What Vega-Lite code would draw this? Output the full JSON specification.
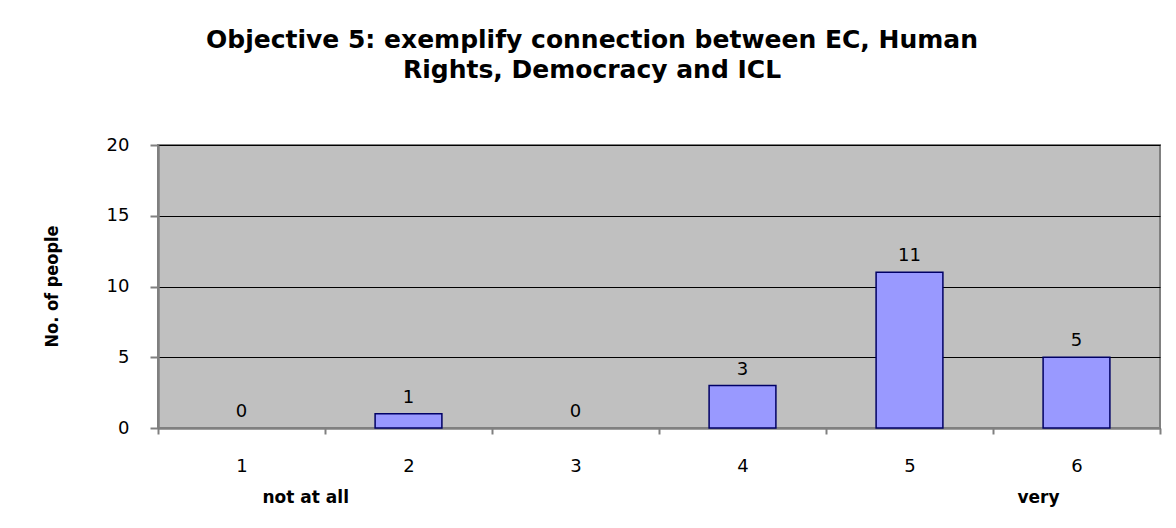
{
  "$schema": "https://vega.github.io/schema/vega-lite/v6.json",
  "autosize": "none",
  "width": 1002,
  "height": 283,
  "padding": {"left": 158, "top": 145, "right": 16, "bottom": 100},
  "background": "white",
  "title": {
    "text": ["Objective 5: exemplify connection between EC, Human", "Rights, Democracy and ICL"],
    "font": "DejaVu Sans",
    "fontSize": 25,
    "fontWeight": "bold",
    "color": "black",
    "anchor": "middle",
    "frame": "group",
    "dx": -67,
    "offset": 53,
    "lineHeight": 30
  },
  "data": {
    "values": [
      {"rating": "1", "count": 0, "note": "not at all"},
      {"rating": "2", "count": 1, "note": ""},
      {"rating": "3", "count": 0, "note": ""},
      {"rating": "4", "count": 3, "note": ""},
      {"rating": "5", "count": 11, "note": ""},
      {"rating": "6", "count": 5, "note": "very"}
    ]
  },
  "config": {
    "view": {"fill": "#c0c0c0", "stroke": "#808080", "strokeWidth": 2},
    "axis": {"labelFont": "DejaVu Sans", "labelFontSize": 18, "labelColor": "black", "domainColor": "#808080", "domainWidth": 2.5, "tickColor": "#808080", "tickWidth": 2}
  },
  "encoding": {
    "x": {
      "field": "rating", "type": "ordinal",
      "scale": {"paddingInner": 0, "paddingOuter": 0},
      "axis": {"title": null, "labelAngle": 0, "tickBand": "extent", "tickSize": 6, "labelPadding": 23, "grid": false}
    }
  },
  "layer": [
    {
      "transform": [{"filter": "datum.count > 0"}],
      "mark": {"type": "bar", "width": {"band": 0.4}, "fill": "#9999ff", "stroke": "#000066", "strokeWidth": 1.5},
      "encoding": {
        "y": {
          "field": "count", "type": "quantitative",
          "scale": {"domain": [0, 20]},
          "axis": {
            "title": "No. of people",
            "titleFont": "DejaVu Sans Condensed",
            "titleFontSize": 18,
            "titleFontWeight": "bold",
            "titleColor": "black",
            "titleAngle": -90,
            "titleX": -106,
            "titleY": 141,
            "titleAlign": "center",
            "titleBaseline": "middle",
            "values": [0, 5, 10, 15, 20],
            "tickSize": 8,
            "labelPadding": 21,
            "grid": true,
            "gridColor": "black",
            "gridWidth": 1.2
          }
        }
      }
    },
    {
      "mark": {"type": "text", "font": "DejaVu Sans", "fontSize": 18, "color": "black", "baseline": "alphabetic", "dy": -11},
      "encoding": {
        "y": {"field": "count", "type": "quantitative"},
        "text": {"field": "count", "type": "quantitative"}
      }
    },
    {
      "transform": [{"filter": "datum.rating == '1'"}],
      "mark": {"type": "text", "font": "DejaVu Sans", "fontSize": 17, "fontWeight": "bold", "color": "black", "align": "left", "baseline": "alphabetic", "dx": 21, "dy": 75},
      "encoding": {
        "y": {"datum": 0, "type": "quantitative"},
        "text": {"field": "note"}
      }
    },
    {
      "transform": [{"filter": "datum.rating == '6'"}],
      "mark": {"type": "text", "font": "DejaVu Sans", "fontSize": 17, "fontWeight": "bold", "color": "black", "align": "right", "baseline": "alphabetic", "dx": -17, "dy": 75},
      "encoding": {
        "y": {"datum": 0, "type": "quantitative"},
        "text": {"field": "note"}
      }
    }
  ]
}
